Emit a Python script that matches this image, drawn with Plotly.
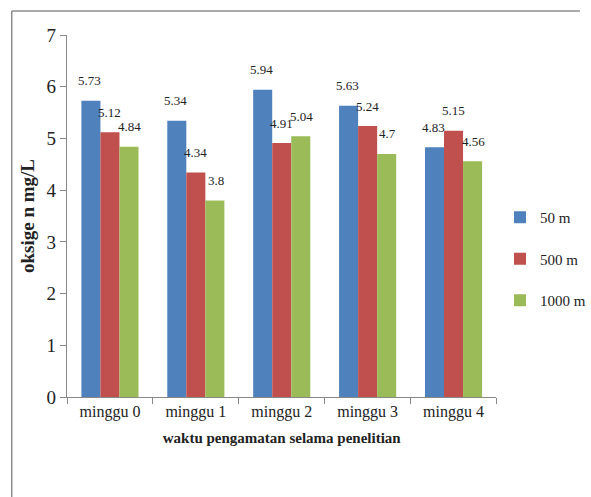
import plotly.graph_objects as go

weeks = ["minggu 0", "minggu 1", "minggu 2", "minggu 3", "minggu 4"]
depth_50 = [5.73, 5.34, 5.94, 5.63, 4.83]
depth_500 = [5.12, 4.34, 4.91, 5.24, 5.15]
depth_1000 = [4.84, 3.80, 5.04, 4.70, 4.56]
series_names = ["50 m", "500 m", "1000 m"]
colors = ["#4F81BD", "#C0504D", "#9BBB59"]

W, H = 591, 497
L, R, T, B = 67, 0, 35, 100
pw, ph = W - L - R, H - T - B
x_domain_end = (510 - L) / pw


def px_to_paper(x, y):
    return (x - L) / pw, 1 - (y - T) / ph


fig = go.Figure()
all_series = [depth_50, depth_500, depth_1000]
for name, vals, col in zip(series_names, all_series, colors):
    fig.add_trace(go.Bar(
        x=weeks, y=vals, name=name, marker_color=col,
        marker_line_width=0, legendgroup=name,
    ))

# value labels sitting a little above each bar
bar_px = 20
for i, vals in enumerate(all_series):
    for wk, v in zip(weeks, vals):
        fig.add_annotation(
            x=wk, y=v, text=f"{v:g}", showarrow=False,
            xshift=(i - 1) * bar_px, yshift=20,
            font=dict(family="Liberation Serif", size=13, color="#222"),
        )

# outer frame: only its top and left edges fall inside the page
fx0, fy0 = px_to_paper(10, 11)
fx1, fy1 = px_to_paper(W + 5, H + 5)
frame = dict(color="#8c8c8c", width=1.5)
fig.add_shape(type="line", xref="paper", yref="paper",
              x0=fx0, y0=fy0, x1=fx1, y1=fy0, line=frame, layer="below")
fig.add_shape(type="line", xref="paper", yref="paper",
              x0=fx0, y0=fy0, x1=fx0, y1=fy1, line=frame, layer="below")

lx, ly = px_to_paper(514, 201)
fig.update_layout(
    width=W, height=H,
    margin=dict(l=L, r=R, t=T, b=B),
    paper_bgcolor="white", plot_bgcolor="white",
    barmode="group", bargap=0.335, bargroupgap=0,
    font=dict(family="Liberation Serif", color="#222"),
    showlegend=True,
    legend=dict(x=lx, y=ly, xanchor="left", yanchor="top",
                font=dict(size=15, family="Liberation Serif"),
                tracegroupgap=19, itemwidth=30, bgcolor="rgba(0,0,0,0)"),
    xaxis=dict(domain=[0, x_domain_end],
               showline=True, linecolor="#888", linewidth=1.2,
               ticks="outside", tickson="boundaries", ticklen=6, tickcolor="#888",
               tickfont=dict(size=16),
               title=dict(text="<b>waktu pengamatan selama penelitian</b>",
                          font=dict(size=15), standoff=12)),
    yaxis=dict(range=[0, 7], dtick=1, showgrid=False, zeroline=False,
               showline=True, linecolor="#888", linewidth=1.2,
               ticks="outside", ticklen=6, tickcolor="#888",
               tickfont=dict(size=19),
               title=dict(text="<b>oksige n mg/L</b>", font=dict(size=19), standoff=6)),
)

fig.write_html("out.html")
